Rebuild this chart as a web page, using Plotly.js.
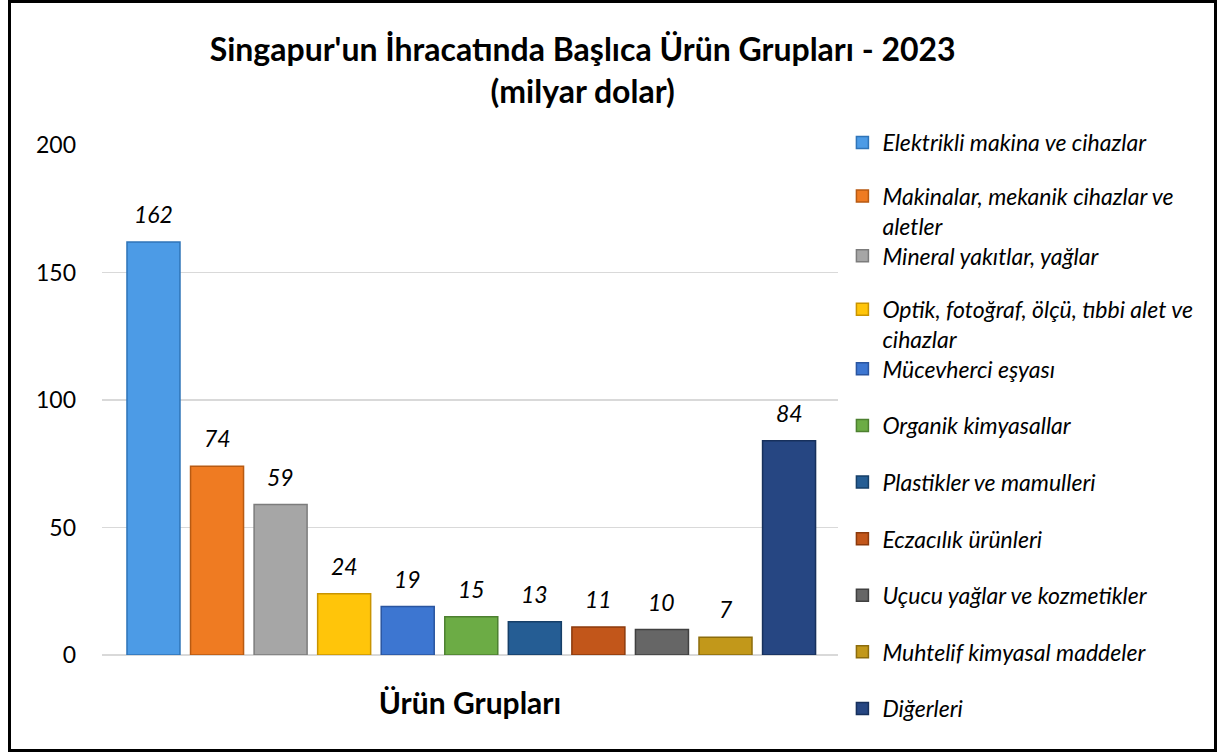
<!DOCTYPE html>
<html>
<head>
<meta charset="utf-8">
<script src="https://cdn.plot.ly/plotly-3.0.1.min.js"></script>
<style>
  body { margin: 0; background: #fff; }
  #wrap { position: relative; width: 1219px; height: 754px; }
  #chart { width: 1219px; height: 754px; }
  #frame {
    position: absolute; left: 8px; top: 0px; width: 1203px; height: 746px;
    border: 3px solid #000; pointer-events: none;
  }
</style>
</head>
<body>
<div id="wrap">
  <div id="chart"></div>
  <div id="frame"></div>
</div>
<script>
// Ürün grupları (kategoriler) ve 2023 ihracat değerleri (milyar dolar)
const categories = [
    'Elektrikli makina ve cihazlar',
    'Makinalar, mekanik cihazlar ve<br>aletler',
    'Mineral yakıtlar, yağlar',
    'Optik, fotoğraf, ölçü, tıbbi alet ve<br>cihazlar',
    'Mücevherci eşyası',
    'Organik kimyasallar',
    'Plastikler ve mamulleri',
    'Eczacılık ürünleri',
    'Uçucu yağlar ve kozmetikler',
    'Muhtelif kimyasal maddeler',
    'Diğerleri'
];
const values = [162, 74, 59, 24, 19, 15, 13, 11, 10, 7, 84];
const barColors = [
    '#4c9be6', '#ef7b22', '#a6a6a6', '#ffc50a', '#3d76d1', '#6cac45',
    '#255d94', '#c2561a', '#666666', '#c2981a', '#264682'
];
const edgeColors = [
    '#2f74b8', '#b85a12', '#7c7c7c', '#c99400', '#2a55a0', '#4d8030',
    '#163f68', '#8c3a0c', '#404040', '#8c6c0c', '#17305c'
];
const yTicks = [0, 50, 100, 150, 200];

const FONT = 'Lato, "Open Sans", sans-serif';
const plotTop = 145, plotBottom = 655;   // pixel positions of y=200 and y=0
const legendFirst = 143, legendStep = 56.6;

const traces = [];
const annotations = [];
const layout = {
    width: 1219,
    height: 754,
    paper_bgcolor: 'white',
    plot_bgcolor: 'white',
    margin: { t: plotTop, b: 754 - plotBottom, l: 102, r: 381, pad: 0 },
    title: {
        text: "<b>Singapur'un İhracatında Başlıca Ürün Grupları - 2023<br>(milyar dolar)</b>",
        font: { family: FONT, size: 32, color: '#000' },
        x: 0.478, xref: 'container', xanchor: 'center',
        y: 1 - 61 / 754, yref: 'container', yanchor: 'top'
    },
    barmode: 'overlay',
    bargap: 0.166,
    xaxis: {
        type: 'category',
        categoryorder: 'array',
        categoryarray: categories,
        range: [-0.81, 10.77],
        showticklabels: false,
        ticks: '',
        showgrid: false,
        showline: false,
        zeroline: false,
        title: {
            text: '<b>Ürün Grupları</b>',
            font: { family: FONT, size: 30, color: '#000' },
            standoff: 37
        }
    },
    yaxis: {
        range: [0, 200],
        tickvals: yTicks,
        ticks: '',
        showline: false,
        gridcolor: '#d9d9d9',
        gridwidth: 1.5,
        zeroline: true,
        zerolinecolor: '#d9d9d9',
        zerolinewidth: 1.5,
        tickfont: { family: FONT, size: 23, color: '#000' },
        ticklabelstandoff: 25
    },
    showlegend: true,
    annotations: annotations
};

categories.forEach((cat, i) => {
    const legendName = i === 0 ? 'legend' : 'legend' + (i + 1);
    traces.push({
        type: 'bar',
        name: cat,
        x: [cat],
        y: [values[i]],
        legend: legendName,
        marker: {
            color: barColors[i],
            line: { color: edgeColors[i], width: 1.5 }
        },
        hoverinfo: 'name+y'
    });
    // value label, a little above the bar top
    annotations.push({
        x: cat,
        y: values[i],
        xref: 'x',
        yref: 'y',
        text: '<i>' + values[i] + '</i>',
        showarrow: false,
        yanchor: 'middle',
        yshift: 28,
        font: { family: FONT, size: 23, color: '#000' }
    });
    const twoLines = cat.includes('<br>');
    const py = legendFirst + i * legendStep - 22 - (twoLines ? 3 : 0);
    layout[legendName] = {
        x: 1.006,
        xanchor: 'left',
        y: (plotBottom - py) / (plotBottom - plotTop),
        yanchor: 'top',
        valign: 'top',
        bgcolor: 'rgba(0,0,0,0)',
        font: { family: FONT, size: 23, color: '#000', style: 'italic' },
        itemwidth: 30
    };
});

Plotly.newPlot('chart', traces, layout, { displayModeBar: false, staticPlot: true });
</script>
</body>
</html>
